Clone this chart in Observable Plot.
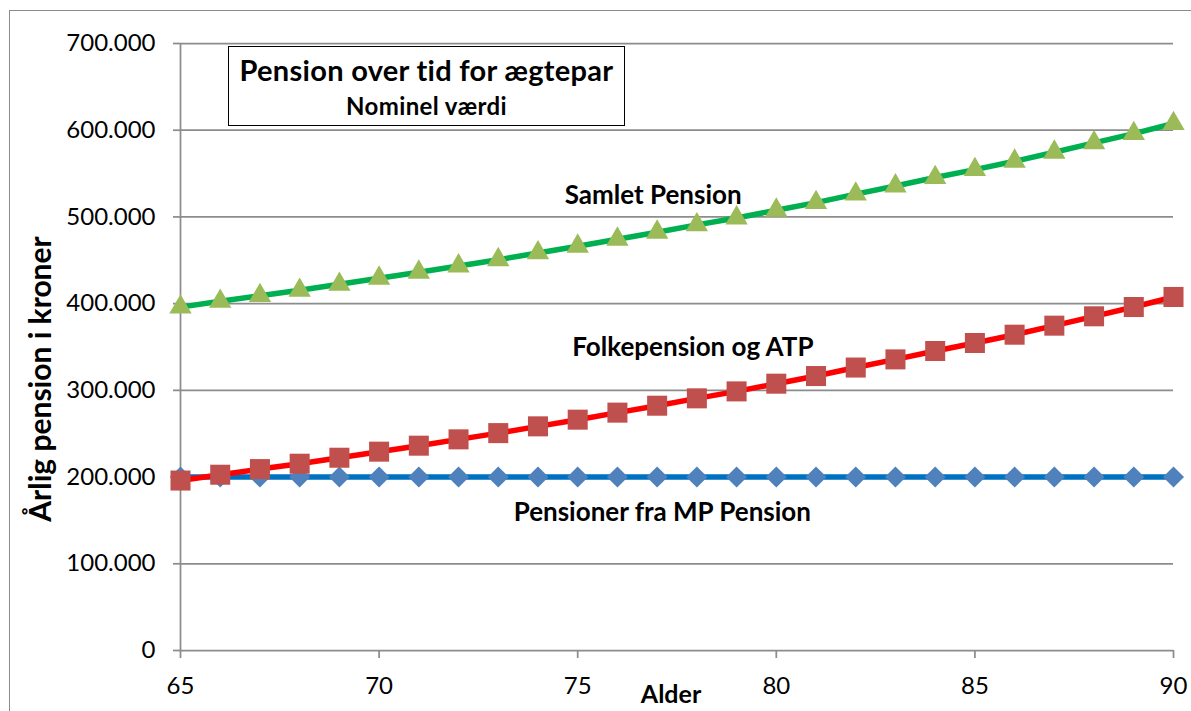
<!DOCTYPE html>
<html>
<head>
<meta charset="utf-8">
<script src="https://cdn.jsdelivr.net/npm/d3@7"></script>
<script src="https://cdn.jsdelivr.net/npm/@observablehq/plot@0.6"></script>
<style>
  html, body { margin: 0; padding: 0; background: #fff; }
  #wrap { position: relative; width: 1191px; height: 711px; overflow: hidden; font-family: Lato, "Noto Sans", sans-serif; }
  #frame { position: absolute; left: 9px; top: 10px; width: 1220px; height: 740px; border: 1.5px solid #8c8c8c; box-sizing: border-box; }
  #chart { position: absolute; left: 0; top: 0; }
  #titlebox { position: absolute; left: 228px; top: 46px; width: 397px; height: 80px; border: 1.5px solid #000; box-sizing: border-box; background: #fff; }
  #titlebox div { position: absolute; left: 0; right: 0; text-align: center; font-weight: bold; color: #000; white-space: nowrap; }
  #t1 { top: 8px; font-size: 29px; line-height: 29px; letter-spacing: 0.3px; }
  #t2 { top: 47px; font-size: 24px; line-height: 24px; letter-spacing: 0.4px; }
</style>
</head>
<body>
<div id="wrap">
  <div id="frame"></div>
  <div id="chart"></div>
  <div id="titlebox"><div id="t1">Pension over tid for ægtepar</div><div id="t2">Nominel værdi</div></div>
</div>
<script>
// ---- data ----
const ages = [65, 66, 67, 68, 69, 70, 71, 72, 73, 74, 75, 76, 77, 78, 79, 80, 81, 82, 83, 84, 85, 86, 87, 88, 89, 90];
const mpPension = [200000, 200000, 200000, 200000, 200000, 200000, 200000, 200000, 200000, 200000, 200000, 200000, 200000, 200000, 200000, 200000, 200000, 200000, 200000, 200000, 200000, 200000, 200000, 200000, 200000, 200000];
const folkepension = [196000, 202700, 209200, 215400, 222300, 229300, 236200, 243500, 250700, 258500, 266200, 274300, 282300, 290800, 298800, 307700, 316500, 326300, 335700, 345400, 354600, 364200, 374600, 385400, 396100, 407700];
const samlet = [396000, 402700, 409200, 415400, 422300, 429300, 436200, 443500, 450700, 458500, 466200, 474300, 482300, 490800, 498800, 507700, 516500, 526300, 535700, 545400, 554600, 564200, 574600, 585400, 596100, 607700];

const yTicks = [0, 100000, 200000, 300000, 400000, 500000, 600000, 700000];
const xTicks = [65, 70, 75, 80, 85, 90];

const seriesLabels = ["Samlet Pension", "Folkepension og ATP", "Pensioner fra MP Pension"];
const labelAges = [76.9, 77.9, 77.13];
const labelValues = [524000, 349000, 159500];

const yAxisTitle = "Årlig pension i kroner";
const xAxisTitle = "Alder";

// ---- build tables ----
const rows = (vals) => ages.map((a, i) => ({age: a, value: vals[i]}));
const mpRows = rows(mpPension);
const folkRows = rows(folkepension);
const samletRows = rows(samlet);
const labelRows = seriesLabels.map((t, i) => ({text: t, age: labelAges[i], value: labelValues[i]}));

const da = d3.formatLocale({decimal: ",", thousands: ".", grouping: [3], currency: ["", " kr."]});
const fmt = da.format(",.0f");

const grid = "#8c8c8c";

const chart = Plot.plot({
  width: 1191,
  height: 711,
  marginLeft: 180,
  marginRight: 18,
  marginTop: 43,
  marginBottom: 61,
  style: {fontFamily: "Lato, 'Noto Sans', sans-serif", background: "transparent", color: "#000"},
  x: {domain: [65, 90]},
  y: {domain: [0, 700000]},
  marks: [
    Plot.ruleY(yTicks.filter(d => d > 0), {stroke: grid, strokeWidth: 1.75}),
    Plot.ruleX([65], {stroke: grid, strokeWidth: 1.75}),
    Plot.ruleY([0], {stroke: grid, strokeWidth: 1.75}),
    Plot.axisY({ticks: yTicks, tickFormat: fmt, tickSize: 7, tickPadding: 18, fontSize: 24, label: null, stroke: grid, strokeWidth: 1.75, fill: "#000"}),
    Plot.axisX({ticks: xTicks, tickFormat: d => String(d), tickSize: 8, tickPadding: 18, fontSize: 24, label: null, stroke: grid, strokeWidth: 1.75, fill: "#000"}),

    Plot.line(mpRows, {x: "age", y: "value", stroke: "#0070C0", strokeWidth: 5.5}),
    Plot.dot(mpRows, {x: "age", y: "value", symbol: "diamond2", r: 9.5, fill: "#4F81BD", stroke: "none"}),

    Plot.line(folkRows, {x: "age", y: "value", stroke: "#FF0000", strokeWidth: 5.5}),
    Plot.dot(folkRows, {x: "age", y: "value", symbol: "square", r: 11.3, fill: "#C0504D", stroke: "none"}),

    Plot.line(samletRows, {x: "age", y: "value", stroke: "#00B050", strokeWidth: 5.5}),
    Plot.dot(samletRows, {x: "age", y: "value", symbol: "triangle", r: 8.3, fill: "#9BBB59", stroke: "none"}),

    Plot.text(labelRows, {x: "age", y: "value", text: "text", fontSize: 26, fontWeight: "bold", fill: "#000"}),

    Plot.text([yAxisTitle], {frameAnchor: "left", textAnchor: "middle", dx: -139, dy: 32, rotate: -90, fontSize: 30, fontWeight: "bold", fill: "#000"}),
    Plot.text([xAxisTitle], {frameAnchor: "bottom", textAnchor: "middle", dx: -6, dy: 52, fontSize: 25, fontWeight: "bold", fill: "#000", lineAnchor: "bottom"})
  ]
});

document.getElementById("chart").appendChild(chart);
</script>
</body>
</html>
